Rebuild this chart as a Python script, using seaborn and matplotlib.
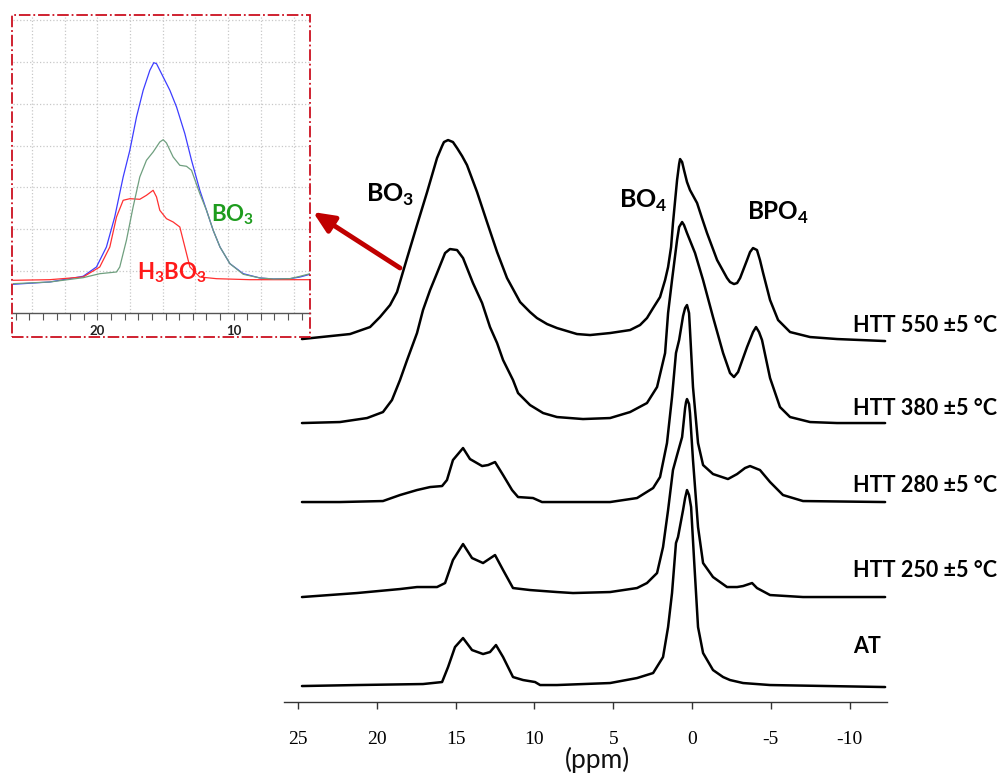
import numpy as np
import matplotlib
matplotlib.use('Agg')
import matplotlib.pyplot as plt
import seaborn as sns
from matplotlib.patches import Rectangle
from matplotlib.ticker import MultipleLocator

# ---------------------------------------------------------
# Spectra: chemical shift (ppm) and
# intensity above each trace's own baseline (arb. units)
# ---------------------------------------------------------
labels = ['HTT 550 ±5 °C', 'HTT 380 ±5 °C', 'HTT 280 ±5 °C', 'HTT 250 ±5 °C', 'AT']

ppm_550 = [24.75, 21.70, 20.43, 19.80, 19.16, 18.72, 18.08, 17.45, 16.81, 16.18,
           15.86, 15.74, 15.48, 15.17, 14.91, 14.59, 14.28, 13.64, 13.01, 12.37,
           11.74, 10.91, 10.28, 9.84, 9.20, 8.57, 7.30, 6.47, 5.20, 3.93,
           3.30, 2.86, 2.47, 2.03, 1.71, 1.52, 1.33, 1.21, 0.95, 0.82,
           0.76, 0.63, 0.51, 0.32, 0.13, -0.32, -0.63, -0.95, -1.59, -2.22,
           -2.41, -2.66, -2.86, -3.05, -3.49, -3.68, -3.87, -4.12, -4.31, -4.51,
           -4.95, -5.46, -6.22, -7.49, -9.20, -12.25]
int_550 = [1, 6, 13, 23, 35, 48, 82, 115, 148, 182,
           194, 198, 200, 198, 192, 184, 175, 148, 118, 88,
           62, 38, 28, 22, 16, 12, 6, 5, 7, 10,
           15, 22, 32, 43, 60, 73, 93, 117, 160, 176,
           181, 178, 170, 158, 150, 137, 122, 107, 80, 62,
           58, 56, 57, 62, 80, 88, 92, 90, 80, 67,
           40, 20, 8, 3, 1, -1]

ppm_380 = [24.75, 22.34, 20.62, 19.61, 19.04, 18.53, 18.08, 17.45, 17.07, 16.62,
           16.18, 15.67, 15.36, 14.91, 14.53, 13.90, 13.32, 12.82, 12.37, 11.99,
           11.36, 11.04, 10.28, 9.45, 8.57, 6.92, 5.20, 3.93, 2.86, 2.22,
           1.71, 1.52, 1.27, 0.95, 0.82, 0.63, 0.51, 0.32, -0.19, -0.70,
           -1.33, -1.97, -2.41, -2.66, -2.92, -3.49, -3.87, -4.06, -4.25, -4.44,
           -4.95, -5.58, -6.22, -7.49, -9.20, -12.25]
int_380 = [0, 1, 5, 11, 23, 43, 63, 90, 113, 133,
           150, 170, 174, 173, 165, 140, 120, 96, 80, 63,
           43, 30, 18, 10, 6, 4, 5, 11, 20, 36,
           70, 110, 143, 183, 196, 201, 198, 190, 170, 143,
           106, 70, 50, 46, 51, 76, 91, 96, 91, 83,
           45, 16, 6, 1, 0, 0]

ppm_280 = [24.75, 22.34, 19.61, 18.53, 17.45, 16.62, 15.86, 15.55, 15.17, 14.53,
           14.09, 13.32, 12.94, 12.50, 11.99, 11.42, 11.04, 10.09, 9.52, 8.57,
           5.20, 3.49, 2.47, 2.03, 1.59, 1.27, 1.02, 0.82, 0.57, 0.44,
           0.32, 0.19, 0.13, -0.06, -0.38, -0.70, -1.33, -2.28, -2.86, -3.36,
           -3.68, -4.31, -4.95, -5.77, -7.04, -12.25]
int_280 = [0, 0, 1, 7, 12, 15, 16, 22, 42, 54,
           43, 36, 37, 40, 27, 12, 5, 4, 0, 0,
           0, 4, 14, 25, 59, 105, 149, 162, 186, 194,
           197, 189, 172, 115, 59, 37, 28, 23, 28, 34,
           36, 32, 20, 7, 1, 0]

ppm_250 = [24.75, 21.26, 18.53, 17.45, 16.18, 15.67, 15.17, 14.53, 13.96, 13.26,
           12.50, 11.99, 11.36, 10.28, 8.57, 7.55, 5.20, 3.49, 2.86, 2.22,
           1.84, 1.52, 1.21, 0.95, 0.63, 0.44, 0.38, 0.32, 0.19, 0.13,
           -0.06, -0.38, -0.70, -1.33, -2.22, -2.86, -3.24, -3.81, -4.12, -4.95,
           -7.04, -12.25]
int_250 = [-1, 3, 7, 9, 9, 13, 36, 52, 38, 33,
           41, 26, 8, 6, 4, 3, 4, 8, 13, 23,
           49, 86, 126, 141, 159, 188, 194, 197, 192, 183,
           136, 69, 33, 19, 9, 9, 10, 13, 8, 1,
           -1, -1]

ppm_at = [24.75, 21.26, 17.07, 15.86, 15.48, 15.04, 14.53, 13.96, 13.26, 12.82,
          12.44, 11.99, 11.36, 10.72, 9.96, 9.64, 8.57, 5.20, 3.49, 2.47,
          1.84, 1.52, 1.27, 1.02, 0.89, 0.57, 0.44, 0.32, 0.19, 0.06,
          -0.13, -0.38, -0.70, -1.33, -1.97, -2.41, -3.24, -4.95, -12.25]
int_at = [0, 1, 2, 4, 19, 39, 48, 36, 32, 34,
          41, 29, 9, 6, 4, 1, 1, 3, 8, 13,
          29, 59, 93, 143, 149, 176, 188, 196, 191, 179,
          126, 59, 33, 16, 9, 6, 3, 1, -1]

main_ticks = [25, 20, 15, 10, 5, 0, -5, -10]

# inset: BO3 region (ppm, intensity)
ins_ppm_blue = [26.20, 23.50, 21.05, 20.07, 19.34, 18.73, 18.11, 17.62, 17.13, 16.64,
                16.15, 15.86, 15.66, 15.17, 14.68, 14.19, 13.58, 13.09, 12.48, 11.99,
                11.50, 11.00, 10.27, 9.29, 8.06, 7.08, 5.86, 5.12, 4.39]
ins_blue = [28.7, 31.0, 36.7, 46.0, 66.0, 96.0, 136.0, 162.7, 196.0, 222.7,
            242.7, 250.3, 249.3, 236.0, 222.7, 206.0, 179.3, 152.7, 122.7, 102.7,
            82.7, 66.0, 49.3, 39.3, 35.0, 34.0, 34.3, 36.0, 38.7]
ins_ppm_green = [26.20, 23.50, 21.05, 19.83, 18.60, 18.36, 17.87, 17.38, 16.89, 16.40,
                 15.91, 15.42, 15.17, 14.93, 14.44, 13.95, 13.46, 13.09, 12.48, 11.99,
                 11.50, 11.00, 10.27, 9.29, 8.06, 7.08, 5.86, 5.12, 4.39]
ins_green = [29.3, 31.0, 35.3, 39.3, 41.0, 46.0, 72.7, 106.0, 136.0, 152.7,
             161.0, 171.0, 173.3, 170.0, 156.0, 147.7, 146.7, 142.7, 119.3, 102.7,
             82.7, 66.0, 49.3, 38.7, 35.0, 34.0, 34.3, 36.7, 39.3]
ins_ppm_red = [26.20, 23.50, 21.05, 19.83, 19.09, 18.60, 18.11, 17.62, 16.89, 16.40,
               15.91, 15.66, 15.42, 14.93, 14.44, 13.95, 13.58, 13.21, 12.48, 11.25,
               8.80, 4.39]
ins_red = [32.7, 33.3, 36.0, 46.0, 66.0, 96.0, 112.7, 114.3, 113.7, 117.7,
           122.7, 116.0, 102.7, 94.3, 91.0, 86.0, 66.0, 46.0, 36.0, 34.3,
           33.3, 33.3]
inset_ticks = [20, 10]

# ---------------------------------------------------------
# Layout / style
# ---------------------------------------------------------
sns.set_theme(style="white")
plt.rcParams['font.family'] = ['Lato', 'DejaVu Sans']
plt.rcParams['mathtext.fontset'] = 'custom'
plt.rcParams['mathtext.rm'] = 'Lato'
plt.rcParams['mathtext.bf'] = 'Lato:bold'
plt.rcParams['axes.unicode_minus'] = False
plt.rcParams['text.color'] = 'black'
plt.rcParams['xtick.color'] = 'black'

spectra = [(ppm_550, int_550), (ppm_380, int_380), (ppm_280, int_280),
           (ppm_250, int_250), (ppm_at, int_at)]
offsets = [362, 279, 200, 106, 16]
label_y = [0.5709, 0.4631, 0.3639, 0.2540, 0.1556]

fig = plt.figure(figsize=(10, 7.73), dpi=100)

# main stacked spectra
ax = fig.add_axes([0.284, 0.0918, 0.603, 0.7529])
ax.patch.set_alpha(0)
for (ppm, inten), off in zip(spectra, offsets):
    sns.lineplot(x=ppm, y=np.array(inten) + off, ax=ax, color='black', lw=1.8,
                 sort=False, estimator=None, solid_joinstyle='round')
ax.set_xlim(25.89, -12.37)
ax.set_ylim(0, 582)
sns.despine(ax=ax, left=True)
ax.set_yticks([])
ax.set_xticks(main_ticks)
ax.set_xticklabels([str(t) for t in main_ticks], family='Liberation Serif', fontsize=14)
ax.spines['bottom'].set_color('#333333')
ax.spines['bottom'].set_linewidth(1.0)
ax.tick_params(axis='x', bottom=True, direction='out', length=5, width=1,
               color='#333333', pad=16)
ax.set_xlabel('')
ax.set_ylabel('')

fig.text(0.597, 0.0168, '(ppm)', ha='center', va='center', fontsize=19, color='#111111')

fig.text(0.366, 0.7387, r'BO$_\mathbf{3}$', fontsize=18, fontweight='bold', va='baseline')
fig.text(0.619, 0.7309, r'BO$_\mathbf{4}$', fontsize=18, fontweight='bold', va='baseline')
fig.text(0.747, 0.7154, r'BPO$_\mathbf{4}$', fontsize=17.5, fontweight='bold', va='baseline')

for lab, ly in zip(labels, label_y):
    fig.text(0.853, ly, lab, fontsize=15.5, fontweight='bold', va='baseline')

# inset
axi = fig.add_axes([0.013, 0.5951, 0.297, 0.3855])
axi.patch.set_alpha(0)
for gx in np.arange(24.8, 5.0, -2.4):
    axi.axvline(gx, color='#c8c8c8', ls=':', lw=0.9, zorder=0)
for gy in np.arange(42, 298, 41.8):
    axi.axhline(gy, color='#c8c8c8', ls=':', lw=0.9, zorder=0)
sns.lineplot(x=ins_ppm_blue, y=ins_blue, ax=axi, color='#3d3dff', lw=0.9, sort=False, estimator=None)
sns.lineplot(x=ins_ppm_red, y=ins_red, ax=axi, color='#ff3030', lw=0.9, sort=False, estimator=None)
sns.lineplot(x=ins_ppm_green, y=ins_green, ax=axi, color='#6f9f7f', lw=0.9, sort=False, estimator=None)
axi.set_xlim(26.2, 4.39)
axi.set_ylim(0, 298)
for s in ['top', 'right', 'left']:
    axi.spines[s].set_visible(False)
axi.spines['bottom'].set_color('#555555')
axi.spines['bottom'].set_linewidth(1.0)
axi.set_yticks([])
axi.set_xticks(inset_ticks)
axi.xaxis.set_minor_locator(MultipleLocator(1))
axi.set_xticklabels([str(t) for t in inset_ticks], fontsize=9.5, fontweight='bold', color='#222222')
axi.tick_params(axis='x', which='both', bottom=True, direction='out', length=5, width=0.8,
                color='#555555', pad=4)
axi.set_xlabel('')
axi.set_ylabel('')

fig.text(0.211, 0.7132, r'BO$_\mathbf{3}$', fontsize=16, fontweight='bold', color='#1e9c1e', va='baseline')
fig.text(0.137, 0.6386, r'H$_\mathbf{3}$BO$_\mathbf{3}$', fontsize=16, fontweight='bold', color='#ff1a1a', va='baseline')

fig.add_artist(Rectangle((0.012, 0.564), 0.298, 0.4166, transform=fig.transFigure,
                         fill=False, ec='#cc1020', ls='-.', lw=1.3))

ax.annotate('', xy=(0.313, 0.7257), xytext=(0.400, 0.6533),
            xycoords='figure fraction', textcoords='figure fraction',
            arrowprops=dict(arrowstyle='-|>,head_length=0.9,head_width=0.4',
                            color='#c00000', lw=3.5, mutation_scale=14,
                            shrinkA=0, shrinkB=0))

plt.savefig('out.png', dpi=100)
plt.close()
